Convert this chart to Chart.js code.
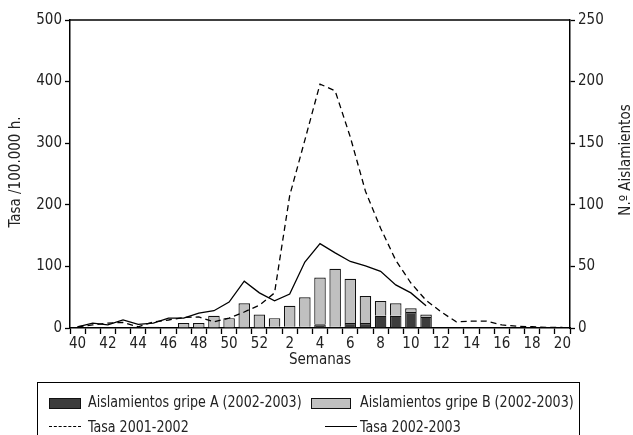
<!DOCTYPE html>
<html><head><meta charset="utf-8">
<script src="https://cdn.jsdelivr.net/npm/chart.js@4/dist/chart.umd.min.js"></script>
<style>
html,body{margin:0;padding:0;background:#fff;}
#wrap{position:relative;width:633px;height:435px;overflow:hidden;font-family:"DejaVu Sans Condensed","Liberation Sans",sans-serif;color:#222;}
canvas{position:absolute;left:0;top:0;}
#legend{position:absolute;left:37px;top:382px;width:543px;height:70px;border:1px solid #000;box-sizing:border-box;}
.it{position:absolute;font-size:15px;line-height:18px;white-space:nowrap;transform:scaleX(0.94);transform-origin:left center;}
.sw{position:absolute;}
</style></head>
<body><div id="wrap"><canvas id="c" width="633" height="435"></canvas>
<div id="legend"></div></div>
<script>
const weeks = ['40','41','42','43','44','45','46','47','48','49','50','51','52','1','2','3','4','5','6','7','8','9','10','11','12','13','14','15','16','17','18','19','20'];
const tasa0102 = [2,5,8,9,2,10,13,17,18,10,16,26,37,57,215,305,396,385,310,222,162,110,73,45,26,10,11,11,5,3,2,1,1];
const tasa0203 = [2,8,5,13,6,8,16,16,24,28,42,76,57,44,55,107,137,122,108,101,92,70,57,36,null,null,null,null,null,null,null,null,null];
const gripeA = [0,0,0,0,1,1,0,0,0,0,0,0,0,1,1,1,3,1,4,4,10,10,13,9,0,0,0,0,0,0,0,0,0];
const gripeB = [0,0,0,0,0,0,0,4,4,10,8,20,11,7,17,24,38,47,36,22,12,10,3,2,0,0,0,0,0,0,0,0,0];
const leftTicks = [0,100,200,300,400,500];
const rightTicks = [0,50,100,150,200,250];
const labels = {
  a:'Aislamientos gripe A (2002-2003)', b:'Aislamientos gripe B (2002-2003)',
  t1:'Tasa 2001-2002', t2:'Tasa 2002-2003',
  yl:'Tasa /100.000 h.', yr:'N.º Aislamientos', x:'Semanas'
};
const FONT = '"DejaVu Sans Condensed","Liberation Sans",sans-serif';
const tickFont = {family: FONT, size: 15};
const nz = a => a.map(v => v === 0 ? null : v);

const deco = {
  id:'deco',
  afterDraw(chart){
    const {ctx, chartArea:ca} = chart;
    ctx.save();
    ctx.strokeStyle='#000'; ctx.lineWidth=1.5;
    ctx.beginPath(); ctx.moveTo(ca.left, ca.top); ctx.lineTo(ca.right, ca.top); ctx.stroke();
    ctx.fillStyle='#222'; ctx.font='15px '+FONT; ctx.textAlign='center'; ctx.textBaseline='middle';
    ctx.fillText(labels.x, (ca.left+ca.right)/2, 360);
    ctx.save(); ctx.translate(16,172); ctx.rotate(-Math.PI/2); ctx.fillText(labels.yl,0,0); ctx.restore();
    ctx.save(); ctx.translate(626,160); ctx.rotate(-Math.PI/2); ctx.fillText(labels.yr,0,0); ctx.restore();
    ctx.restore();
  }
};

new Chart(document.getElementById('c'), {
  data: {
    labels: weeks,
    datasets: [
      {type:'line', label:labels.t1, data:tasa0102, yAxisID:'y', borderColor:'#000', borderWidth:1.3, borderDash:[6,4], pointRadius:0, fill:false, tension:0, order:0},
      {type:'line', label:labels.t2, data:tasa0203, yAxisID:'y', borderColor:'#000', borderWidth:1.3, pointRadius:0, fill:false, tension:0, spanGaps:false, order:0},
      {type:'bar', label:labels.a, data:nz(gripeA), yAxisID:'y1', stack:'s', backgroundColor:'#3c3c3c', borderColor:'#111', borderWidth:1.2, categoryPercentage:1, barPercentage:0.76, order:1},
      {type:'bar', label:labels.b, data:nz(gripeB), yAxisID:'y1', stack:'s', backgroundColor:'#c0c0c0', borderColor:'#111', borderWidth:1.2, categoryPercentage:1, barPercentage:0.76, order:1}
    ]
  },
  options: {
    responsive:false, animation:false, devicePixelRatio:1,
    layout:{padding:{top:20,left:0,right:0,bottom:0}},
    plugins:{legend:{display:false}, tooltip:{enabled:false}},
    scales:{
      x:{type:'category', stacked:true, offset:true,
         grid:{display:true, offset:true, drawOnChartArea:false, tickLength:6, tickColor:'#000', tickWidth:1.3},
         border:{display:true, color:'#000', width:1.5},
         ticks:{autoSkip:false, maxRotation:0, minRotation:0, padding:1, color:'#222', font:tickFont,
                callback:(v,i)=> i%2===0 ? weeks[i] : ''},
         afterFit:s=>{s.height=107;}},
      y:{type:'linear', position:'left', min:0, max:500, stacked:false,
         afterBuildTicks:s=>{s.ticks=leftTicks.map(v=>({value:v}));},
         grid:{display:true, drawOnChartArea:false, tickLength:5, tickColor:'#000', tickWidth:1.3},
         border:{display:true, color:'#000', width:1.5},
         ticks:{padding:3, color:'#222', font:tickFont},
         afterFit:s=>{s.width=70;}},
      y1:{type:'linear', position:'right', min:0, max:250, stacked:true,
         afterBuildTicks:s=>{s.ticks=rightTicks.map(v=>({value:v}));},
         grid:{display:true, drawOnChartArea:false, tickLength:5, tickColor:'#000', tickWidth:1.3},
         border:{display:true, color:'#000', width:1.5},
         ticks:{padding:3, color:'#222', font:tickFont},
         afterFit:s=>{s.width=63;}}
    }
  },
  plugins:[deco]
});

// legend (positions relative to legend box)
const lg = document.getElementById('legend');
function add(html){ lg.insertAdjacentHTML('beforeend', html); }
add('<div class="sw" style="left:11px;top:15px;width:30px;height:9px;background:#3c3c3c;border:1px solid #111;"></div>');
add('<div class="it" style="left:50px;top:10px;">'+labels.a+'</div>');
add('<div class="sw" style="left:273px;top:15px;width:38px;height:9px;background:#c0c0c0;border:1px solid #111;"></div>');
add('<div class="it" style="left:322px;top:10px;">'+labels.b+'</div>');
add('<div class="sw" style="left:11px;top:43px;width:32px;height:0;border-top:1.3px dashed #000;"></div>');
add('<div class="it" style="left:50px;top:35px;">'+labels.t1+'</div>');
add('<div class="sw" style="left:287px;top:43px;width:32px;height:0;border-top:1.3px solid #000;"></div>');
add('<div class="it" style="left:322px;top:35px;">'+labels.t2+'</div>');
</script></body></html>
